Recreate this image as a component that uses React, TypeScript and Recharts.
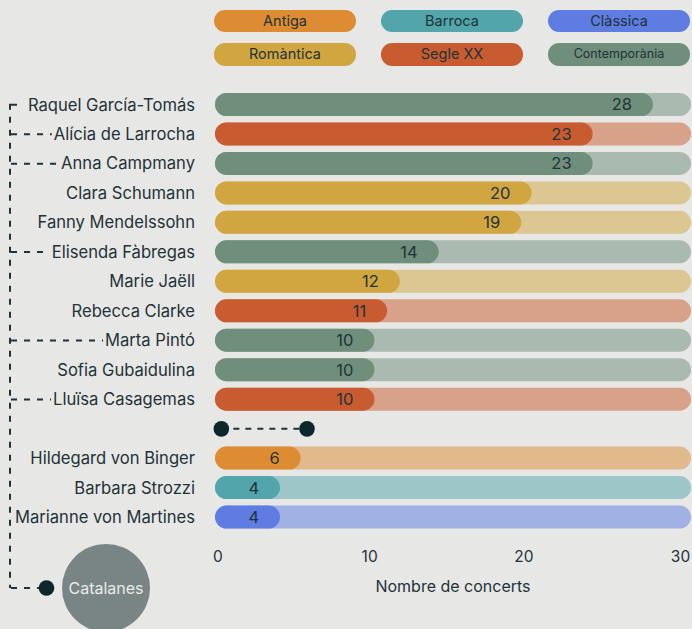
import React from 'react';
import { BarChart, Bar, XAxis, YAxis, Cell, LabelList, ReferenceDot, ReferenceLine } from 'recharts';

const periods = ['Antiga', 'Barroca', 'Clàssica', 'Romàntica', 'Segle XX', 'Contemporània'];
const periodColors = ['#de8c33', '#52a5ab', '#5e7ce2', '#d1a640', '#c85b30', '#6f8e7b'];

const composers = [
  'Raquel García-Tomás',
  'Alícia de Larrocha',
  'Anna Campmany',
  'Clara Schumann',
  'Fanny Mendelssohn',
  'Elisenda Fàbregas',
  'Marie Jaëll',
  'Rebecca Clarke',
  'Marta Pintó',
  'Sofia Gubaidulina',
  'Lluïsa Casagemas',
  'Hildegard von Binger',
  'Barbara Strozzi',
  'Marianne von Martines',
];
const composerPeriods = [
  'Contemporània', 'Segle XX', 'Contemporània', 'Romàntica', 'Romàntica', 'Contemporània',
  'Romàntica', 'Segle XX', 'Contemporània', 'Contemporània', 'Segle XX', 'Antiga', 'Barroca', 'Clàssica',
];
const concertLabels = [28, 23, 23, 20, 19, 14, 12, 11, 10, 10, 10, 6, 4, 4];
const barLengths = [27.6, 23.8, 23.8, 19.95, 19.3, 14.1, 11.65, 10.85, 10.05, 10.05, 10.05, 5.4, 4.1, 4.1];
const catalanes = [
  'Raquel García-Tomás', 'Alícia de Larrocha', 'Anna Campmany',
  'Elisenda Fàbregas', 'Marta Pintó', 'Lluïsa Casagemas',
];
const xTicks = [0, 10, 20, 30];
const SPLIT = 11;
const SEP = '__sep__';
const separatorRange = [0.4, 5.8];

const BG = '#e7e7e5';
const INK = '#1f3338';
const FONT = 'Inter, "Noto Sans", sans-serif';
const MAX = xTicks[xTicks.length - 1];
const NAME_SIZE = 16.6;

const colorOf = (p: string) => periodColors[periods.indexOf(p)];

const rows: any[] = [];
composers.forEach((name, i) => {
  if (i === SPLIT) rows.push({ name: SEP, value: null, track: null, label: null, period: null });
  rows.push({ name, value: barLengths[i], track: MAX, label: concertLabels[i], period: composerPeriods[i] });
});

let ctx: CanvasRenderingContext2D | null = null;
function measure(t: string, font: string) {
  if (!ctx && typeof document !== 'undefined') ctx = document.createElement('canvas').getContext('2d');
  if (!ctx) return t.length * 8.5;
  ctx.font = font;
  return ctx.measureText(t).width;
}

function ComposerTick(props: any) {
  const { x, y, payload, index } = props;
  const name = payload.value;
  if (name === SEP) return null;
  const isCat = catalanes.includes(name);
  const tx = x;
  const w = measure(name, `${NAME_SIZE}px Inter`);
  const bottomY = 588;
  const lineEnd = index === 0 ? 17 : tx - w - 2;
  return (
    <g>
      {isCat && (
        <line x1={10} x2={lineEnd} y1={y} y2={y} stroke={INK} strokeWidth={2}
          strokeDasharray="6 7" strokeDashoffset={-1} />
      )}
      {index === 0 && (
        <g>
          <line x1={10} x2={10} y1={y - 1} y2={bottomY} stroke={INK} strokeWidth={2} strokeDasharray="6 7" />
          <line x1={10} x2={42} y1={bottomY} y2={bottomY} stroke={INK} strokeWidth={2} strokeDasharray="6 7" strokeDashoffset={-1} />
          <circle cx={46.5} cy={bottomY} r={7.8} fill="#0e272b" />
          <circle cx={106} cy={bottomY} r={44} fill="#788584" />
          <text x={106} y={bottomY} dy="0.35em" textAnchor="middle" fill="#e9ebe9" fontSize={16} fontFamily={FONT}>
            Catalanes
          </text>
        </g>
      )}
      <text x={tx} y={y} dy="0.35em" textAnchor="end" fill={INK} fontSize={NAME_SIZE} fontFamily={FONT}>
        {name}
      </text>
    </g>
  );
}

function CountTick(props: any) {
  const { x, y, payload } = props;
  const cx = 218 + (x - 215) * (462.5 / 476) - (payload.value === 10 || payload.value === 20 ? 2.5 : 0);
  return (
    <text x={cx} y={y + 25} dy="0.35em" textAnchor="middle" fill={INK} fontSize={15.5} fontFamily={FONT}>
      {payload.value}
    </text>
  );
}

function ValueLabel(props: any) {
  const { x, y, width, height, value } = props;
  if (value == null) return null;
  return (
    <text x={x + width - 21} y={y + height / 2} dy="0.36em" textAnchor="end" fill={INK} fontSize={16.5} fontFamily={FONT}>
      {value}
    </text>
  );
}

function AxisTitle(props: any) {
  const { viewBox } = props;
  if (!viewBox) return null;
  return (
    <text x={viewBox.x + viewBox.width / 2} y={viewBox.y + 54} dy="0.35em" textAnchor="middle" fill={INK} fontSize={16} fontFamily={FONT}>
      Nombre de concerts
    </text>
  );
}

function PeriodLegend() {
  const lefts = [214, 381, 548];
  const tops = [9.5, 43];
  return (
    <div style={{ position: 'absolute', left: 0, top: 0 }}>
      {periods.map((p, i) => {
        const col = i % 3;
        const row = Math.floor(i / 3);
        return (
          <div
            key={p}
            style={{
              position: 'absolute',
              left: lefts[col],
              top: tops[row],
              width: 142,
              height: 22.5,
              borderRadius: 11.25,
              background: periodColors[i],
              color: INK,
              fontFamily: FONT,
              fontSize: p === 'Contemporània' ? 12.5 : 14.5,
              lineHeight: '22.5px',
              textAlign: 'center',
            }}
          >
            {p}
          </div>
        );
      })}
    </div>
  );
}

export default function App() {
  return (
    <div style={{ position: 'fixed', left: 0, top: 0, width: 692, height: 629, background: BG, overflow: 'hidden' }}>
      <PeriodLegend />
      <BarChart
        width={692}
        height={629}
        data={rows}
        layout="vertical"
        margin={{ top: 90, right: 1, bottom: 0, left: 0 }}
        barSize={23}
        barGap={-23}
        barCategoryGap={0}
        style={{ position: 'absolute', left: 0, top: 0 }}
      >
        <XAxis
          type="number"
          domain={[0, MAX]}
          ticks={xTicks}
          axisLine={false}
          tickLine={false}
          tickSize={0}
          tickMargin={0}
          height={97}
          tick={<CountTick />}
          label={<AxisTitle />}
          interval={0}
        />
        <YAxis
          type="category"
          dataKey="name"
          width={215}
          axisLine={false}
          tickLine={false}
          tickSize={0}
          tickMargin={20}
          tick={<ComposerTick />}
          interval={0}
        />
        <Bar dataKey="track" radius={11.5} isAnimationActive={false}>
          {rows.map((r, i) => (
            <Cell key={i} fill={r.period ? colorOf(r.period) : 'none'} fillOpacity={0.5} />
          ))}
        </Bar>
        <Bar dataKey="value" radius={11.5} isAnimationActive={false}>
          {rows.map((r, i) => (
            <Cell key={i} fill={r.period ? colorOf(r.period) : 'none'} />
          ))}
          <LabelList dataKey="label" content={<ValueLabel />} />
        </Bar>
        <ReferenceLine
          segment={[{ x: separatorRange[0], y: SEP }, { x: separatorRange[1], y: SEP }]}
          stroke={INK}
          strokeWidth={2}
          strokeDasharray="6 6"
        />
        <ReferenceDot x={separatorRange[0]} y={SEP} r={7.8} fill="#0e272b" stroke="none" />
        <ReferenceDot x={separatorRange[1]} y={SEP} r={7.8} fill="#0e272b" stroke="none" />
      </BarChart>
    </div>
  );
}
